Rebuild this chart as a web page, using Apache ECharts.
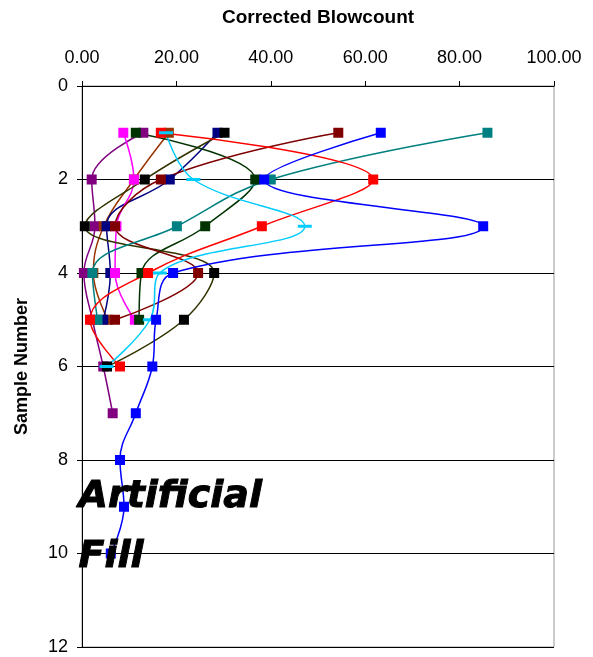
<!DOCTYPE html>
<html><head><meta charset="utf-8">
<script src="https://cdn.jsdelivr.net/npm/echarts@6/dist/echarts.min.js"></script>
<style>html,body{margin:0;padding:0;background:#fff}#c{width:593px;height:657px}</style>
</head><body><div id="c"></div>
<script>
var samples = [1, 2, 3, 4, 5, 6, 7, 8, 9, 10];
var xTicks = [0, 20, 40, 60, 80, 100];
var yTicks = [0, 2, 4, 6, 8, 10, 12];

var blue    = [63.3, 38.6, 85.0, 19.3, 15.7, 14.9, 11.4, 8.05, 8.9, 6.1];
var teal    = [85.9, 40.0, 20.1, 2.2, 3.3];
var red     = [16.7, 61.7, 38.1, 14.0, 1.7, 8.05];
var maroon  = [54.3, 16.7, 7.0, 24.6, 7.0];
var dkgreen = [11.4, 36.7, 26.1, 12.6, 12.1];
var black   = [30.2, 13.3, 0.6, 28.0, 21.6, 5.3];
var navy    = [28.7, 18.6, 5.2, 6.0, 4.5];
var sienna  = [18.4, 11.0, 4.6, 2.4, 5.5];
var magenta = [8.75, 11.0, 7.3, 7.0, 11.2];
var purple  = [13.0, 2.05, 2.75, 0.4, 2.2, 4.5, 6.5];
var cyan    = [17.8, 23.6, 47.2, 16.5, 14.4, 5.2];

function mk(name, vals, lineColor, markColor, symbol, size) {
  return {
    name: name, type: 'line', smooth: 0.4,
    data: vals.map(function (v, i) { return [v, samples[i]]; }),
    symbol: symbol || 'rect', symbolSize: size || 10,
    lineStyle: { color: lineColor, width: 1.5 },
    itemStyle: { color: markColor || lineColor },
    showSymbol: true
  };
}

var chart = echarts.init(document.getElementById('c'));
chart.setOption({
  animation: false,
  textStyle: { fontFamily: 'Liberation Sans, Arial, sans-serif' },
  grid: { left: 82, right: 39, top: 86, bottom: 10, show: true, borderColor: '#999', borderWidth: 1 },
  xAxis: {
    type: 'value', position: 'top', min: xTicks[0], max: xTicks[xTicks.length - 1], interval: 20,
    name: 'Corrected Blowcount', nameLocation: 'middle', nameGap: 59,
    nameTextStyle: { fontWeight: 'bold', fontSize: 19, color: '#000' },
    axisLine: { lineStyle: { color: '#000' } },
    axisTick: { show: true, inside: false, length: 5, lineStyle: { color: '#000' } },
    axisLabel: { fontSize: 18, color: '#000', margin: 19, formatter: function (v) { return v.toFixed(2); } },
    splitLine: { show: false }
  },
  yAxis: {
    type: 'value', inverse: true, min: yTicks[0], max: yTicks[yTicks.length - 1], interval: 2,
    name: 'Sample Number', nameLocation: 'middle', nameGap: 51, nameRotate: 90,
    nameTextStyle: { fontWeight: 'bold', fontSize: 18, color: '#000' },
    axisLine: { lineStyle: { color: '#000' } },
    axisTick: { show: true, inside: false, length: 5, lineStyle: { color: '#000' } },
    axisLabel: { fontSize: 18, color: '#000', margin: 14 },
    splitLine: { show: true, lineStyle: { color: '#000', width: 1 } }
  },
  series: [
    mk('purple', purple, '#800080'),
    mk('sienna', sienna, '#993300'),
    mk('navy', navy, '#000080'),
    mk('magenta', magenta, '#FF00FF'),
    mk('black', black, '#333300', '#000000'),
    mk('dkgreen', dkgreen, '#003300'),
    mk('maroon', maroon, '#800000'),
    mk('teal', teal, '#008080'),
    mk('red', red, '#FF0000'),
    mk('cyan', cyan, '#00CCFF', '#00CCFF', 'rect', [14, 3]),
    mk('blue', blue, '#0000FF')
  ],
  graphic: [
    { type: 'text', left: 78, top: 478, z: 100,
      style: { text: 'Artificial', font: 'italic bold 38px "DejaVu Sans", sans-serif', fill: '#000', stroke: '#000', lineWidth: 1 } },
    { type: 'text', left: 78, top: 538, z: 100,
      style: { text: 'Fill', font: 'italic bold 38px "DejaVu Sans", sans-serif', fill: '#000', stroke: '#000', lineWidth: 1 } }
  ]
});
</script>
</body></html>
